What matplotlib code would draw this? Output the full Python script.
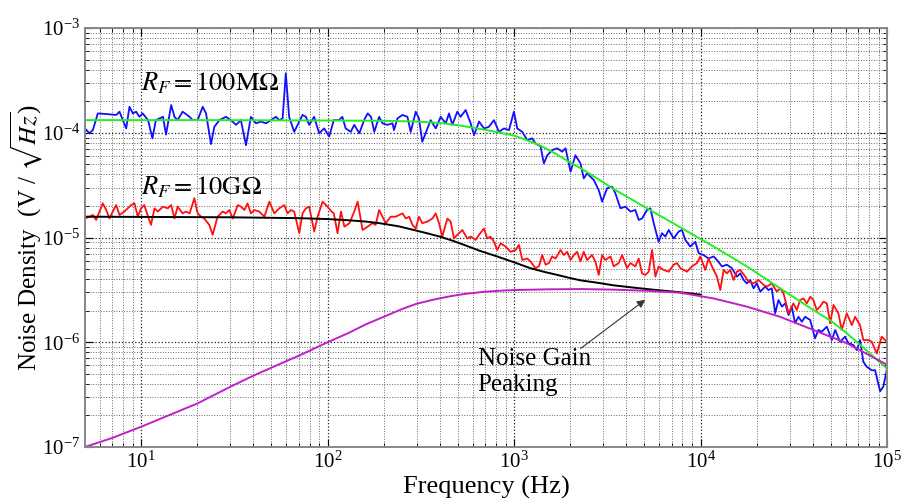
### PACKAGES ###
import matplotlib
matplotlib.use('Agg')
import matplotlib.pyplot as plt
from matplotlib.ticker import LogLocator, NullFormatter

plt.rcParams['font.family'] = ['Liberation Serif', 'DejaVu Serif']
plt.rcParams['mathtext.fontset'] = 'stix'

### DATA ###
# R_F = 100 MOhm, measured (blue)
blue_f = [5.0, 5.28, 5.51, 5.86, 6.5, 7.35, 7.66, 7.98, 8.32, 8.66, 9.03, 9.4, 9.8, 10.2, 10.9,
          11.5, 12.0, 13.1, 13.6, 14.5, 15.1, 15.7, 16.7, 18.2, 18.9, 20.1, 21.4, 22.3, 23.7, 24.7,
          26.3, 28.5, 30.3, 32.3, 34.3, 36.5, 38.8, 41.3, 43.9, 46.7, 49.7, 52.8, 55.1, 57.4, 59.7,
          62.2, 66.2, 73.4, 76.5, 79.7, 84.7, 90.1, 95.9, 102, 108, 115, 120, 125, 133, 139, 148,
          157, 164, 171, 178, 189, 197, 209, 223, 227, 237, 252, 268, 279, 297, 309, 322, 343, 357,
          380, 404, 430, 448, 467, 496, 517, 550, 585, 610, 649, 690, 733, 780, 830, 883, 939, 998,
          1040, 1107, 1178, 1251, 1303, 1387, 1445, 1507, 1603, 1706, 1811, 1888, 2009, 2133, 2270,
          2364, 2464, 2675, 2844, 2965, 3153, 3354, 3495, 3717, 3954, 4206, 4470, 4660, 4855, 5162,
          5381, 5609, 5960, 6212, 6474, 6748, 7177, 7634, 7950, 8282, 8810, 9370, 9770, 10380,
          11040, 11750, 12240, 13030, 13840, 14720, 15660, 16330, 17020, 17710, 18460, 19240,
          20050, 20900, 22220, 23120, 24100, 25120, 26180, 27290, 28440, 29640, 30830, 32140,
          33500, 34910, 36390, 38730, 41110, 42850, 44670, 47530, 50580, 52720, 55980, 59570,
          62090, 66070, 68870, 71610, 74650, 77800, 82790, 86300, 91830, 95500, 99600, 100000]
blue_v = [1.10e-4, 9.9e-5, 1.06e-4, 1.53e-4, 1.51e-4, 1.48e-4, 1.59e-4, 1.32e-4, 1.10e-4, 1.77e-4,
          1.53e-4, 1.59e-4, 1.42e-4, 1.53e-4, 1.32e-4, 8.85e-5, 1.32e-4, 1.42e-4, 9.6e-5, 1.84e-4,
          1.42e-4, 1.32e-4, 1.59e-4, 1.42e-4, 1.32e-4, 1.32e-4, 1.77e-4, 1.53e-4, 7.8e-5, 1.14e-4,
          1.32e-4, 1.42e-4, 1.32e-4, 1.19e-4, 1.32e-4, 7.6e-5, 1.42e-4, 1.23e-4, 1.28e-4, 1.23e-4,
          1.32e-4, 1.42e-4, 1.32e-4, 1.37e-4, 3.7e-4, 1.42e-4, 1.02e-4, 1.48e-4, 1.42e-4, 1.19e-4,
          1.42e-4, 9.9e-5, 1.10e-4, 9.2e-5, 1.32e-4, 1.32e-4, 1.42e-4, 1.10e-4, 1.02e-4, 1.19e-4,
          9.9e-5, 1.32e-4, 1.53e-4, 1.42e-4, 1.02e-4, 1.42e-4, 1.23e-4, 1.19e-4, 1.23e-4, 1.06e-4,
          1.37e-4, 1.48e-4, 1.42e-4, 1.02e-4, 1.59e-4, 1.37e-4, 8.2e-5, 1.10e-4, 1.32e-4, 1.10e-4,
          1.42e-4, 1.23e-4, 1.53e-4, 1.19e-4, 1.59e-4, 1.42e-4, 1.65e-4, 1.23e-4, 9.5e-5, 1.28e-4,
          1.10e-4, 1.14e-4, 1.32e-4, 1.02e-4, 1.10e-4, 1.06e-4, 1.59e-4, 1.10e-4, 1.02e-4, 8.5e-5,
          8.85e-5, 7.9e-5, 7.4e-5, 5.1e-5, 6.1e-5, 6.85e-5, 7.1e-5, 6.6e-5, 7.1e-5, 4.25e-5, 6.1e-5,
          5.1e-5, 3.67e-5, 4.1e-5, 3.54e-5, 2.84e-5, 2.2e-5, 2.95e-5, 3.06e-5, 2.64e-5, 1.90e-5,
          1.97e-5, 1.77e-5, 1.83e-5, 1.47e-5, 1.52e-5, 1.83e-5, 1.90e-5, 1.37e-5, 9.1e-6, 1.10e-5,
          1.02e-5, 1.18e-5, 9.8e-6, 1.14e-5, 1.18e-5, 9.5e-6, 8.2e-6, 9.1e-6, 7.1e-6, 6.8e-6, 6.3e-6,
          6.6e-6, 6.1e-6, 5.3e-6, 5.5e-6, 5.1e-6, 4.23e-6, 4.55e-6, 3.93e-6, 3.65e-6, 3.93e-6,
          3.27e-6, 3.65e-6, 3.04e-6, 3.4e-6, 3.15e-6, 3.27e-6, 1.89e-6, 2.53e-6, 2.19e-6, 2.35e-6,
          1.82e-6, 2.19e-6, 1.52e-6, 1.75e-6, 1.57e-6, 1.75e-6, 1.63e-6, 1.09e-6, 1.31e-6, 1.26e-6,
          1.41e-6, 1.05e-6, 1.31e-6, 1.01e-6, 1.13e-6, 9.8e-7, 9.4e-7, 8.4e-7, 1.05e-6, 6.5e-7,
          5.85e-7, 5.4e-7, 5.4e-7, 3.4e-7, 3.77e-7, 5.4e-7, 5.85e-7]

# R_F = 10 GOhm, measured (red)
red_f = [5.0, 5.29, 5.51, 5.74, 5.98, 6.23, 6.5, 6.77, 7.05, 7.35, 7.66, 8.14, 8.48, 8.84, 9.21,
         9.6, 10.0, 10.4, 10.9, 11.3, 11.8, 12.3, 13.1, 13.9, 14.5, 15.1, 15.7, 16.7, 17.4, 18.2,
         19.3, 20.1, 21.0, 21.8, 23.2, 24.2, 25.7, 27.4, 28.5, 29.7, 31.0, 33.0, 34.3, 35.8, 37.2,
         38.8, 40.4, 43.0, 45.8, 48.7, 51.8, 55.1, 58.6, 61.0, 63.6, 66.2, 70.5, 73.4, 76.5, 79.7,
         84.8, 88.4, 94.0, 100, 104, 108, 113, 118, 123, 131, 139, 145, 154, 164, 174, 181, 189,
         197, 205, 218, 232, 252, 263, 274, 285, 297, 309, 322, 343, 365, 380, 396, 412, 439, 457,
         476, 496, 528, 561, 585, 622, 649, 689, 718, 748, 780, 813, 847, 900, 957, 1019, 1062,
         1107, 1177, 1225, 1303, 1358, 1416, 1476, 1538, 1600, 1668, 1774, 1849, 1928, 2009, 2091,
         2179, 2270, 2364, 2464, 2618, 2729, 2844, 2965, 3090, 3289, 3421, 3640, 3795, 4036, 4206,
         4470, 4660, 4855, 5060, 5273, 5495, 5726, 5960, 6340, 6748, 7177, 7480, 7795, 8116, 8458,
         8995, 9570, 9970, 10600, 11040, 11510, 12240, 12760, 13300, 13840, 14430, 15030, 15660,
         16330, 17380, 18080, 19240, 20470, 21780, 22700, 24100, 25640, 26730, 27860, 29640,
         31490, 32810, 34200, 35650, 37150, 38730, 40270, 41980, 43750, 45610, 47530, 49550,
         51640, 54830, 57150, 60810, 64700, 67440, 71610, 74650, 79430, 82790, 88100, 93600,
         97600, 100000]
red_v = [1.52e-5, 1.58e-5, 1.64e-5, 1.47e-5, 1.77e-5, 2.12e-5, 1.83e-5, 1.52e-5, 1.77e-5, 2.04e-5,
         1.64e-5, 1.77e-5, 1.90e-5, 2.04e-5, 2.12e-5, 1.58e-5, 1.90e-5, 2.04e-5, 1.58e-5, 1.32e-5,
         1.90e-5, 1.77e-5, 1.97e-5, 1.90e-5, 2.04e-5, 1.52e-5, 1.97e-5, 1.70e-5, 1.77e-5, 1.70e-5,
         2.37e-5, 1.70e-5, 1.58e-5, 1.52e-5, 1.32e-5, 1.06e-5, 1.58e-5, 1.77e-5, 1.70e-5, 1.83e-5,
         1.52e-5, 2.04e-5, 1.97e-5, 1.83e-5, 2.12e-5, 1.70e-5, 1.83e-5, 1.77e-5, 1.58e-5, 2.20e-5,
         1.70e-5, 1.90e-5, 2.04e-5, 1.70e-5, 1.83e-5, 1.77e-5, 1.10e-5, 1.70e-5, 1.90e-5, 1.97e-5,
         1.14e-5, 1.58e-5, 2.20e-5, 1.97e-5, 1.80e-5, 1.70e-5, 1.10e-5, 1.77e-5, 1.27e-5, 1.37e-5,
         1.77e-5, 2.20e-5, 1.18e-5, 1.27e-5, 1.37e-5, 1.32e-5, 1.83e-5, 1.58e-5, 1.37e-5, 1.58e-5,
         1.58e-5, 1.70e-5, 1.52e-5, 1.58e-5, 1.32e-5, 1.22e-5, 1.58e-5, 1.37e-5, 1.42e-5, 1.52e-5,
         1.70e-5, 1.37e-5, 1.02e-5, 1.52e-5, 1.42e-5, 9.8e-6, 1.06e-5, 1.18e-5, 9.8e-6, 1.02e-5,
         9.5e-6, 1.06e-5, 1.22e-5, 9.8e-6, 1.02e-5, 9.1e-6, 7.6e-6, 8.8e-6, 8.2e-6, 7.3e-6, 7.6e-6,
         8.5e-6, 6.1e-6, 6.3e-6, 5.9e-6, 5.1e-6, 5.3e-6, 6.8e-6, 5.5e-6, 5.7e-6, 6.6e-6, 6.3e-6,
         7.6e-6, 6.8e-6, 7.3e-6, 6.1e-6, 6.8e-6, 7.3e-6, 5.9e-6, 7.3e-6, 6.1e-6, 6.8e-6, 5.9e-6,
         4.39e-6, 6.8e-6, 6.1e-6, 6.6e-6, 5.3e-6, 5.7e-6, 6.8e-6, 5.1e-6, 5.7e-6, 5.3e-6, 6.3e-6,
         4.55e-6, 4.39e-6, 4.72e-6, 7.6e-6, 4.23e-6, 5.3e-6, 4.9e-6, 4.72e-6, 5.5e-6, 5.7e-6,
         5.1e-6, 4.9e-6, 4.72e-6, 5.3e-6, 5.7e-6, 6.6e-6, 4.9e-6, 6.3e-6, 5.3e-6, 4.23e-6, 3.15e-6,
         4.9e-6, 4.55e-6, 4.9e-6, 3.93e-6, 4.72e-6, 4.9e-6, 4.23e-6, 3.79e-6, 3.65e-6, 3.93e-6,
         3.52e-6, 3.4e-6, 3.65e-6, 3.04e-6, 3.27e-6, 2.93e-6, 1.89e-6, 2.35e-6, 2.03e-6, 2.53e-6,
         2.62e-6, 2.35e-6, 2.72e-6, 2.53e-6, 2.03e-6, 2.19e-6, 2.44e-6, 2.35e-6, 1.52e-6, 2.27e-6,
         1.89e-6, 1.31e-6, 1.89e-6, 1.46e-6, 1.75e-6, 1.46e-6, 1.05e-6, 1.05e-6, 1.01e-6, 7.8e-7,
         1.13e-6, 1.05e-6, 1.01e-6]

# model curves
green_f = [5, 20, 100, 200, 300, 400, 500, 600, 800, 1000, 1150, 1330, 1500, 1700, 2000, 2270,
           2800, 3420, 4200, 5160, 7800, 11750, 17700, 26700, 40300, 50000, 60800, 75000, 100000]
green_v = [1.32e-4, 1.32e-4, 1.31e-4, 1.30e-4, 1.28e-4, 1.24e-4, 1.18e-4, 1.12e-4, 1.02e-4,
           9.4e-5, 8.6e-5, 7.8e-5, 7.0e-5, 6.2e-5, 5.2e-5, 4.6e-5, 3.65e-5, 2.9e-5, 2.35e-5,
           1.90e-5, 1.25e-5, 8.2e-6, 5.3e-6, 3.27e-6, 2.03e-6, 1.6e-6, 1.22e-6, 8.8e-7, 5.6e-7]

black_f = [5, 30, 70, 100, 130, 160, 190, 240, 290, 340, 400, 470, 540, 650, 810, 1000, 1220,
           1450, 1700, 2000, 2270, 2800, 3400, 4200, 5160, 6400, 7800, 10000]
black_v = [1.58e-5, 1.56e-5, 1.53e-5, 1.50e-5, 1.46e-5, 1.42e-5, 1.37e-5, 1.28e-5, 1.18e-5,
           1.10e-5, 1.02e-5, 9.3e-6, 8.5e-6, 7.5e-6, 6.6e-6, 5.8e-6, 5.1e-6, 4.7e-6, 4.4e-6,
           4.1e-6, 3.9e-6, 3.7e-6, 3.5e-6, 3.35e-6, 3.22e-6, 3.1e-6, 3.0e-6, 2.85e-6]

mag_f = [5, 7, 10, 14, 20, 30, 40, 52, 72, 100, 130, 160, 200, 250, 300, 380, 460, 550, 690,
         800, 1000, 1500, 2270, 3400, 5160, 7800, 11750, 17700, 26700, 40300, 60800, 100000]
mag_v = [1.0e-7, 1.22e-7, 1.56e-7, 2.0e-7, 2.6e-7, 3.75e-7, 4.8e-7, 5.9e-7, 7.6e-7, 1.0e-6,
         1.23e-6, 1.48e-6, 1.75e-6, 2.07e-6, 2.33e-6, 2.58e-6, 2.76e-6, 2.9e-6, 3.03e-6, 3.09e-6,
         3.15e-6, 3.2e-6, 3.22e-6, 3.18e-6, 3.10e-6, 2.97e-6, 2.62e-6, 2.19e-6, 1.75e-6, 1.31e-6,
         9.8e-7, 6.1e-7]

### PLOT ###
fig = plt.figure(figsize=(9.01, 5.04), dpi=100)
ax = fig.add_axes([0.0943, 0.1131, 0.8902, 0.8313])

ax.plot(blue_f, blue_v, color='#1010ff', lw=1.3)
ax.plot(red_f, red_v, color='#ff1010', lw=1.3)
ax.plot(green_f, green_v, color='#22ee22', lw=1.4)
ax.plot(black_f, black_v, color='black', lw=1.4)
ax.plot(mag_f, mag_v, color='#c020c8', lw=1.4)

ax.set_xscale('log')
ax.set_yscale('log')
ax.set_xlim(5, 1e5)
ax.set_ylim(1e-7, 1e-3)

ax.xaxis.set_minor_locator(LogLocator(base=10, subs=range(2, 10), numticks=20))
ax.yaxis.set_minor_locator(LogLocator(base=10, subs=range(2, 10), numticks=20))
ax.xaxis.set_minor_formatter(NullFormatter())
ax.yaxis.set_minor_formatter(NullFormatter())

ax.grid(True, which='major', ls=':', color='#222222', lw=0.9)
ax.grid(True, which='minor', ls=':', color='#666666', lw=0.7)
ax.tick_params(which='both', direction='in', top=True, right=True, labelsize=15)
ax.tick_params(which='major', length=6)
ax.tick_params(which='minor', length=3)
for s in ax.spines.values():
    s.set_color('#888888')
    s.set_linewidth(1.4)

ax.set_xlabel('Frequency (Hz)', fontsize=19, labelpad=2)
ax.set_ylabel(r'Noise Density  (V / $\sqrt{Hz}$)', fontsize=18)
ax.yaxis.set_label_coords(-0.05, 0.5)

### LABELS ###
ax.text(10, 2.98e-4, r'$R_F = 100\mathrm{M}\Omega$', fontsize=19, va='center', ha='left')
ax.text(10, 3.03e-5, r'$R_F = 10\mathrm{G}\Omega$', fontsize=19, va='center', ha='left')
ax.text(638, 8.8e-7, 'Noise Gain\nPeaking', fontsize=18, va='top', ha='left', linespacing=1.25)
ax.annotate('', xy=(5190, 2.64e-6), xytext=(2213, 8.4e-7),
            arrowprops=dict(arrowstyle='-|>', color='#333333', lw=0.8, mutation_scale=12))

fig.savefig('out.png', dpi=100)
